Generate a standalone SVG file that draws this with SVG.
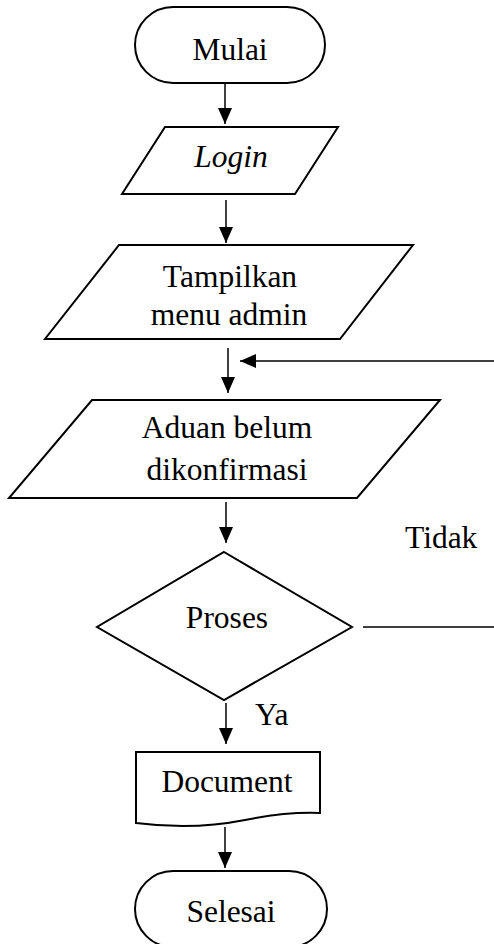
<svg xmlns="http://www.w3.org/2000/svg" width="494" height="944" viewBox="0 0 494 944">
  <style>
    .shape { fill: #fff; stroke: #000; stroke-width: 2; stroke-linejoin: miter; }
    .conn { fill: none; stroke: #000; stroke-width: 1.5; }
    .lbl { font-family: "Liberation Serif", "Times New Roman", serif; font-size: 31.5px; fill: #000; text-anchor: middle; }
    .side { font-family: "Liberation Serif", "Times New Roman", serif; font-size: 31.5px; fill: #000; }
  </style>
  <defs>
    <marker id="arrow" markerUnits="userSpaceOnUse" markerWidth="16" markerHeight="14" viewBox="0 0 16 14" refX="16" refY="7" orient="auto">
      <path d="M0,0 L16,7 L0,14 Z" fill="#000"/>
    </marker>
  </defs>
  <rect width="494" height="944" fill="#fff"/>

  <!-- connectors -->
  <g id="connectors">
    <line class="conn" x1="225" y1="84" x2="225" y2="124" marker-end="url(#arrow)"/>
    <line class="conn" x1="226" y1="200" x2="226" y2="243" marker-end="url(#arrow)"/>
    <line class="conn" x1="228" y1="348" x2="228" y2="393" marker-end="url(#arrow)"/>
    <polyline class="conn" points="363,627 500,627 500,361 240,361" marker-end="url(#arrow)"/>
    <line class="conn" x1="226" y1="502" x2="226" y2="543" marker-end="url(#arrow)"/>
    <line class="conn" x1="226" y1="703" x2="226" y2="744" marker-end="url(#arrow)"/>
    <line class="conn" x1="225" y1="827" x2="225" y2="868" marker-end="url(#arrow)"/>
    <text class="side" x="405" y="548">Tidak</text>
    <text class="side" x="255" y="725">Ya</text>
  </g>

  <g id="mulai">
    <rect class="shape" x="135" y="7" width="190" height="76" rx="38" ry="38"/>
    <text class="lbl" x="230" y="60">Mulai</text>
  </g>

  <g id="login">
    <polygon class="shape" points="165,127 338,127 295,194 122,194"/>
    <text class="lbl" x="231" y="167" font-style="italic">Login</text>
  </g>

  <g id="menu-admin">
    <polygon class="shape" points="119,245 413,245 340,339 45,339"/>
    <text class="lbl" x="230" y="287">Tampilkan</text>
    <text class="lbl" x="229" y="325">menu admin</text>
  </g>

  <g id="aduan">
    <polygon class="shape" points="92,400 440,400 357,498 9,498"/>
    <text class="lbl" x="227" y="438">Aduan belum</text>
    <text class="lbl" x="227" y="480">dikonfirmasi</text>
  </g>

  <g id="proses">
    <polygon class="shape" points="224,552 352,627 224,700 97,627"/>
    <text class="lbl" x="227" y="628">Proses</text>
  </g>

  <g id="document">
    <path class="shape" d="M136,752 H320 V813 C295,812 270,815 245,820 C210,827 175,828 136,823 Z"/>
    <text class="lbl" x="227" y="792">Document</text>
  </g>

  <g id="selesai">
    <rect class="shape" x="135" y="871" width="192" height="76" rx="38" ry="38"/>
    <text class="lbl" x="231" y="922">Selesai</text>
  </g>
</svg>
